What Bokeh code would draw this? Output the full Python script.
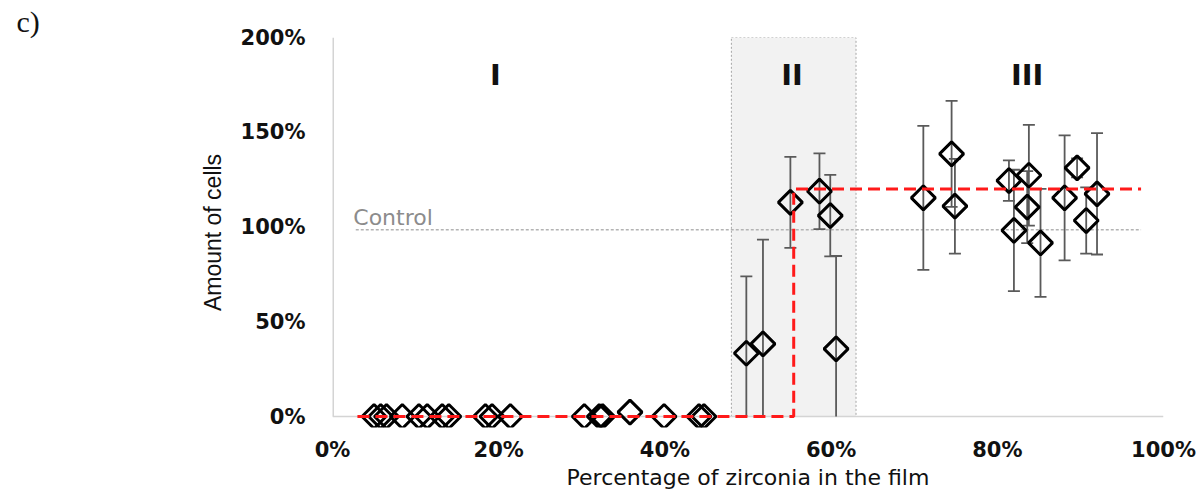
import math
from bokeh.plotting import figure
from bokeh.models import Range1d, FixedTicker, PrintfTickFormatter, Label, ColumnDataSource
from bokeh.embed import file_html
from bokeh.resources import INLINE

# ---- data (percent units) ----
# region I points (no visible error bars)
low_x = [5.0, 5.8, 6.5, 8.4, 10.4, 11.4, 13.2, 14.0, 18.4, 19.2, 21.4,
         30.3, 32.1, 32.5, 35.8, 39.9, 44.1, 44.7]
low_y = [0, 0, 0, 0, 0, 0, 0, 0, 0, 0, 0,
         0, 0, 0, 2.3, 0, 0, 0]

# region II / III points with error bars
hi_x = [49.8, 51.8, 55.1, 58.6, 59.9, 60.6,
        71.1, 74.5, 74.9, 81.4, 82.0, 83.8, 83.6, 85.2, 88.1, 89.6, 90.7, 92.0]
hi_y = [33.4, 38.3, 113.0, 118.9, 106.0, 35.7,
        115.4, 138.6, 111.0, 124.5, 98.2, 127.3, 110.5, 91.6, 115.4, 131.2, 103.4, 117.5]
hi_err = [40.5, 55.0, 24.0, 20.0, 21.5, 49.0,
          38.0, 28.0, 25.0, 10.7, 32.0, 26.6, 19.0, 28.5, 33.0, 5.0, 17.5, 32.0]

# step model (red dashed)
step_x = [3.0, 55.5, 55.5, 97.3]
step_y = [0, 0, 120, 120]

# control level
control_x = [2.8, 97.3]
control_y = 98.5

# shaded region II
region_x = [48.0, 63.0]
region_y = [0, 200]

region_labels = ["I", "II", "III"]
region_label_x = [19.6, 55.3, 83.6]

x_ticks = [0, 20, 40, 60, 80, 100]
y_ticks = [0, 50, 100, 150, 200]

# ---- figure ----
p = figure(width=1203, height=493, output_backend="svg", toolbar_location=None,
           x_range=Range1d(0, 100), y_range=Range1d(-5.8, 200),
           min_border_left=332, min_border_right=40, min_border_top=37,
           min_border_bottom=66)
p.outline_line_color = None
p.grid.visible = False
p.background_fill_color = "white"

# panel letter as title
p.title.text = "c)"
p.title.text_font = "Liberation Serif"
p.title.text_font_size = "30px"
p.title.text_font_style = "normal"
p.title.text_color = "#111111"
p.title.align = "left"
p.title.offset = -316
p.title.standoff = 0

# axes (lines drawn as glyphs at the zero levels below)
for ax in (p.xaxis[0], p.yaxis[0]):
    ax.axis_line_color = None
    ax.major_tick_line_color = None
    ax.minor_tick_line_color = None
    ax.major_tick_out = 0
    ax.major_tick_in = 0
    ax.major_label_text_font = "DejaVu Sans"
    ax.major_label_text_font_style = "bold"
    ax.major_label_text_font_size = "21px"
    ax.major_label_text_color = "#111111"
    ax.formatter = PrintfTickFormatter(format="%d%%")

p.xaxis.ticker = FixedTicker(ticks=x_ticks)
p.yaxis.ticker = FixedTicker(ticks=y_ticks)
p.xaxis.major_label_standoff = 10
p.yaxis.major_label_standoff = 27

p.yaxis.axis_label = "Amount of cells"
p.yaxis.axis_label_text_font = "Liberation Sans"
p.yaxis.axis_label_text_font_style = "normal"
p.yaxis.axis_label_text_font_size = "23px"
p.yaxis.axis_label_text_color = "#111111"
p.yaxis.axis_label_standoff = 12

p.xaxis.axis_label = "Percentage of zirconia in the film"
p.xaxis.axis_label_text_font = "DejaVu Sans"
p.xaxis.axis_label_text_font_style = "normal"
p.xaxis.axis_label_text_font_size = "22px"
p.xaxis.axis_label_text_color = "#111111"
p.xaxis.axis_label_standoff = 0

# shaded region II
p.quad(left=[region_x[0]], right=[region_x[1]], bottom=[region_y[0]], top=[region_y[1]],
       fill_color="#f2f2f2", line_color="#a6a6a6", line_dash="2 2", line_width=1)

# axis lines at the zero levels
p.segment(x0=[x_ticks[0]], y0=[y_ticks[0]], x1=[x_ticks[-1]], y1=[y_ticks[0]],
          line_color="#d4d4d4", line_width=1.5)
p.segment(x0=[x_ticks[0]], y0=[y_ticks[0]], x1=[x_ticks[0]], y1=[y_ticks[-1]],
          line_color="#d4d4d4", line_width=3)

# control line
p.line(control_x, [control_y, control_y], line_color="#b3b3b3", line_dash="3 2", line_width=1.5)
p.add_layout(Label(x=2.5, y=105, text="Control", text_font="DejaVu Sans",
                   text_font_size="22px", text_color="#8c8c8c",
                   text_align="left", text_baseline="alphabetic"))

# region labels
for t, lx in zip(region_labels, region_label_x):
    p.add_layout(Label(x=lx, y=180, text=t, text_font="DejaVu Sans", text_font_style="bold",
                       text_font_size="29px", text_color="#111111",
                       text_align="center", text_baseline="alphabetic"))

# error bars
lower = [y - e for y, e in zip(hi_y, hi_err)]
upper = [y + e for y, e in zip(hi_y, hi_err)]
lower_c = [max(v, 0) for v in lower]
src = ColumnDataSource(dict(x=hi_x, y=hi_y, lo=lower, loc=lower_c, up=upper))
p.segment(x0="x", y0="loc", x1="x", y1="up", source=src, line_color="#5a5a5a", line_width=1.8)
p.scatter(x="x", y="up", source=src, marker="dash", size=12, line_color="#5a5a5a", line_width=1.8)
cap_src = ColumnDataSource(dict(x=[x for x, l in zip(hi_x, lower) if l > 0],
                                lo=[l for l in lower if l > 0]))
p.scatter(x="x", y="lo", source=cap_src, marker="dash", size=12, line_color="#5a5a5a", line_width=1.8)

# diamonds
p.scatter(low_x, low_y, marker="square", angle=math.pi / 4, size=17,
          fill_color=None, line_color="black", line_width=3)
p.scatter(x="x", y="y", source=src, marker="square", angle=math.pi / 4, size=17,
          fill_color=None, line_color="black", line_width=3)

# step line
p.line(step_x, step_y, line_color="#ff1a1a", line_width=3, line_dash="12 6")

open("out.html", "w").write(file_html(p, INLINE))
